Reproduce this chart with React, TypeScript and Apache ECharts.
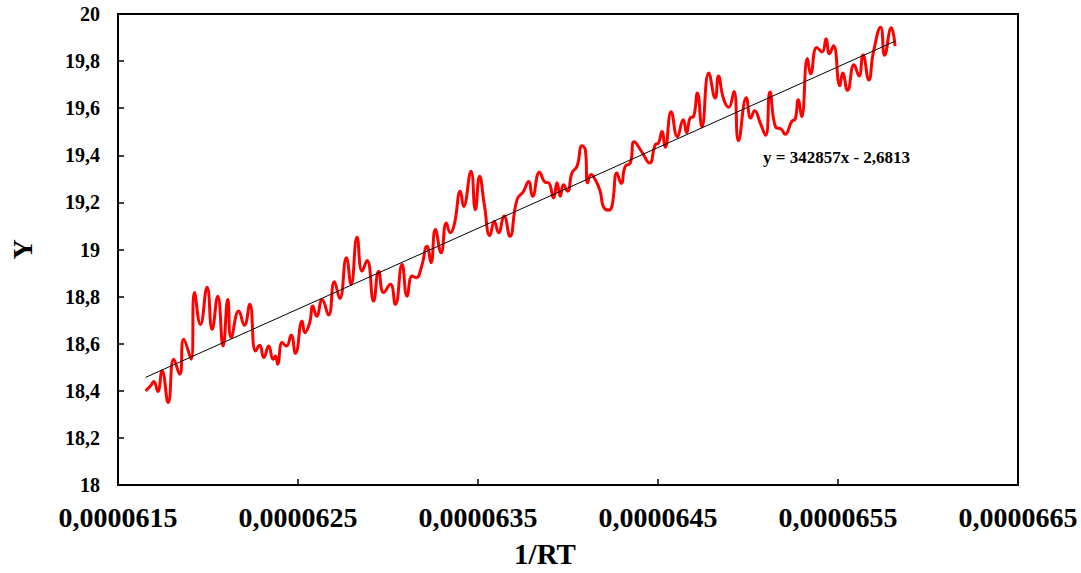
import React, { useEffect, useRef } from 'react';
import * as echarts from 'echarts';

const rtInv = [
  0.000061653, 0.00006168, 0.000061699, 0.000061721, 0.000061745, 0.000061779, 0.00006181, 0.000061843,
  0.000061865, 0.000061906, 0.000061925, 0.000061958, 0.000061995, 0.000062023, 0.000062054, 0.000062084,
  0.00006211, 0.000062129, 0.000062171, 0.000062202, 0.000062232, 0.000062264, 0.000062287, 0.00006231,
  0.000062337, 0.000062362, 0.000062375, 0.000062387, 0.000062412, 0.000062436, 0.000062462, 0.000062486,
  0.000062523, 0.000062538, 0.000062565, 0.000062582, 0.000062604, 0.000062634, 0.00006267, 0.000062702,
  0.000062732, 0.000062769, 0.000062795, 0.000062828, 0.000062856, 0.000062884, 0.00006292, 0.000062948,
  0.000062976, 0.000063013, 0.000063041, 0.000063078, 0.000063106, 0.000063134, 0.000063157, 0.000063185,
  0.000063217, 0.000063239, 0.000063263, 0.000063295, 0.000063324, 0.000063346, 0.000063368, 0.000063402,
  0.00006342, 0.000063461, 0.000063485, 0.000063509, 0.000063535, 0.000063566, 0.000063591, 0.000063614,
  0.000063645, 0.000063677, 0.000063717, 0.000063753, 0.000063781, 0.000063803, 0.000063842, 0.000063874,
  0.000063892, 0.00006392, 0.000063939, 0.000063957, 0.000063975, 0.000063998, 0.000064022, 0.00006405,
  0.000064078, 0.000064096, 0.000064109, 0.000064128, 0.000064151, 0.000064179, 0.000064197, 0.000064225,
  0.000064244, 0.000064272, 0.000064296, 0.000064318, 0.000064346, 0.000064368, 0.000064411, 0.000064453,
  0.000064485, 0.000064503, 0.000064522, 0.00006454, 0.000064573, 0.000064608, 0.00006464, 0.000064659,
  0.000064679, 0.000064697, 0.000064719, 0.000064744, 0.000064782, 0.000064818, 0.000064836, 0.000064864,
  0.000064893, 0.000064922, 0.000064947, 0.000064991, 0.000065015, 0.000065037, 0.000065068, 0.000065098,
  0.000065122, 0.000065154, 0.000065184, 0.000065206, 0.000065244, 0.000065262, 0.000065279, 0.000065298,
  0.00006533, 0.000065348, 0.000065382, 0.000065412, 0.000065434, 0.000065452, 0.000065475, 0.00006551,
  0.000065526, 0.000065553, 0.000065589, 0.000065617, 0.000065639, 0.000065671, 0.000065697, 0.000065737,
  0.000065759, 0.000065796, 0.000065817,
];

const yValues = [
  18.4, 18.42, 18.439, 18.397, 18.484, 18.35, 18.534, 18.47,
  18.619, 18.534, 18.817, 18.682, 18.84, 18.661, 18.802, 18.59,
  18.788, 18.626, 18.739, 18.678, 18.767, 18.569, 18.593, 18.541,
  18.59, 18.534, 18.548, 18.513, 18.605, 18.59, 18.636, 18.559,
  18.696, 18.647, 18.689, 18.76, 18.717, 18.787, 18.722, 18.863,
  18.792, 18.965, 18.852, 19.052, 18.908, 18.953, 18.781, 18.908,
  18.817, 18.852, 18.767, 18.936, 18.802, 18.887, 18.88, 18.924,
  19.014, 18.944, 19.085, 18.986, 19.113, 19.071, 19.106, 19.247,
  19.183, 19.332, 19.169, 19.311, 19.191, 19.059, 19.119, 19.071,
  19.142, 19.056, 19.212, 19.247, 19.289, 19.226, 19.328, 19.285,
  19.283, 19.219, 19.283, 19.226, 19.275, 19.247, 19.325, 19.353,
  19.441, 19.424, 19.283, 19.318, 19.297, 19.247, 19.181, 19.167,
  19.183, 19.325, 19.28, 19.353, 19.367, 19.458, 19.413, 19.367,
  19.445, 19.452, 19.501, 19.434, 19.585, 19.479, 19.551, 19.496,
  19.559, 19.564, 19.665, 19.521, 19.75, 19.643, 19.737, 19.64,
  19.604, 19.671, 19.462, 19.644, 19.558, 19.589, 19.537, 19.485,
  19.669, 19.519, 19.511, 19.489, 19.545, 19.553, 19.636, 19.564,
  19.811, 19.746, 19.858, 19.839, 19.895, 19.831, 19.865, 19.695,
  19.75, 19.676, 19.784, 19.737, 19.826, 19.72, 19.839, 19.944,
  19.825, 19.942, 19.864,
];

// linear trendline shown on the chart: y = 342857x - 2,6813
const trendSlope = 342857;
const trendIntercept = -2.6813;
const trendLabel = 'y = 342857x - 2,6813';

const xTicks = [0.0000615, 0.0000625, 0.0000635, 0.0000645, 0.0000655, 0.0000665];

const SERIF = '"Liberation Serif", "Times New Roman", serif';

export default function App() {
  const chartRef = useRef<HTMLDivElement>(null);

  useEffect(() => {
    if (!chartRef.current) return;
    const chart = echarts.init(chartRef.current, undefined, { renderer: 'svg' });

    const points = rtInv.map((x, i) => [x, yValues[i]]);
    const xFirst = rtInv[0];
    const xLast = rtInv[rtInv.length - 1];
    const trend = [
      [xFirst, trendSlope * xFirst + trendIntercept],
      [xLast, trendSlope * xLast + trendIntercept],
    ];

    chart.setOption({
      animation: false,
      backgroundColor: '#fff',
      grid: {
        left: 117.5,
        right: 63,
        top: 14,
        bottom: 87,
        show: true,
        borderColor: '#000',
        borderWidth: 2,
        backgroundColor: 'transparent',
      },
      xAxis: {
        type: 'value',
        min: 0.0000615,
        max: 0.0000665,
        name: '1/RT',
        nameLocation: 'middle',
        nameGap: 54,
        nameTextStyle: {
          fontFamily: SERIF,
          fontWeight: 'bold',
          fontSize: 29,
          color: '#000',
          padding: [0, 46, 0, 0],
        },
        axisLine: { show: true, onZero: false, lineStyle: { color: '#000', width: 2 } },
        axisTick: { show: true, inside: true, length: 6, lineStyle: { color: '#000', width: 1.5 }, customValues: xTicks },
        axisLabel: {
          customValues: xTicks,
          margin: 18,
          fontFamily: SERIF,
          fontWeight: 'bold',
          fontSize: 28,
          color: '#000',
          formatter: (v: number) => v.toFixed(7).replace('.', ','),
        },
        splitLine: { show: false },
      },
      yAxis: {
        type: 'value',
        min: 18,
        max: 20,
        interval: 0.2,
        name: 'Y',
        nameLocation: 'middle',
        nameGap: 82,
        nameTextStyle: {
          fontFamily: SERIF,
          fontWeight: 'bold',
          fontSize: 28,
          color: '#000',
        },
        axisLine: { show: true, onZero: false, lineStyle: { color: '#000', width: 2 } },
        axisTick: { show: true, inside: true, length: 6, lineStyle: { color: '#000', width: 1.5 } },
        axisLabel: {
          margin: 18,
          fontFamily: SERIF,
          fontWeight: 'bold',
          fontSize: 20,
          color: '#000',
          formatter: (v: number) => String(Number(v.toFixed(1))).replace('.', ','),
        },
        splitLine: { show: false },
      },
      graphic: [
        {
          type: 'text',
          left: 763,
          top: 149,
          style: {
            text: trendLabel,
            fontFamily: SERIF,
            fontWeight: 'bold',
            fontSize: 17,
            fill: '#000',
          },
        },
      ],
      series: [
        {
          name: 'Y',
          type: 'line',
          data: points,
          smooth: 0.5,
          showSymbol: false,
          lineStyle: { color: '#ff0000', width: 3 },
          z: 2,
        },
        {
          name: 'trend',
          type: 'line',
          data: trend,
          showSymbol: false,
          lineStyle: { color: '#000', width: 1 },
          z: 3,
        },
      ],
    });

    return () => {
      chart.dispose();
    };
  }, []);

  return (
    <div
      ref={chartRef}
      style={{ position: 'fixed', left: 0, top: 0, width: 1081, height: 573, background: '#fff' }}
    />
  );
}
